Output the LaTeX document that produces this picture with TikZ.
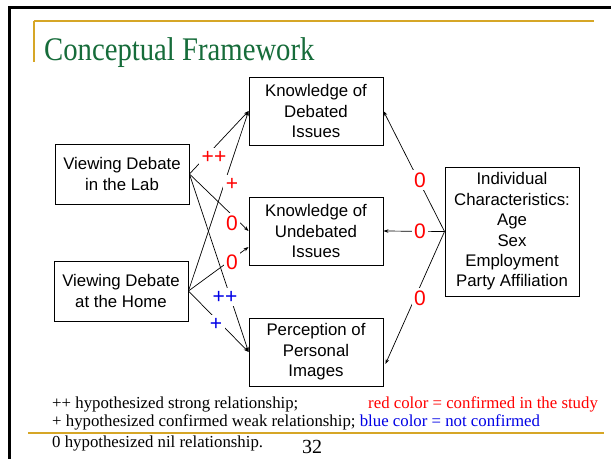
\documentclass[tikz,border=0pt]{standalone}
\usepackage{fontspec}
\setmainfont{Liberation Serif}
\newfontfamily\arialfont{Liberation Sans}
\usetikzlibrary{arrows.meta}
\definecolor{gold}{RGB}{214,166,38}
\definecolor{titlegreen}{RGB}{22,108,58}
\definecolor{lblred}{RGB}{255,0,0}
\definecolor{lblblue}{RGB}{0,0,230}
\tikzset{
  box/.style={draw=black, line width=0.9pt, minimum width=134pt, minimum height=68pt,
    inner sep=0pt, align=center, font=\arialfont\fontsize{16.8}{20.4}\selectfont},
  conn/.style={line width=0.7pt, -{Stealth[length=5pt,width=3.5pt]}},
  lbl/.style={fill=white, inner sep=2.5pt, font=\arialfont\fontsize{21}{22}\selectfont},
  legend/.style={anchor=base west, inner sep=0pt, font=\fontsize{16.8}{20}\selectfont}
}
\begin{document}
\begin{tikzpicture}[x=1pt,y=-1pt]
\useasboundingbox (0,0) rectangle (611,459);
\fill[white] (0,0) rectangle (611,459);
% slide frame
\fill[black] (8,6) rectangle (611,9);
\fill[black] (8,6) rectangle (11,459);
% gold rules
\draw[gold, line width=1.3pt] (34,21) -- (594,21);
\draw[gold, line width=1.3pt] (34,21) -- (34,62);
\draw[gold, line width=1.3pt] (28,433) -- (604,433);
% title
\node[anchor=base west, inner sep=0pt, text=titlegreen, font=\fontsize{33}{36}\selectfont]
  (title) at (44,60) {\scalebox{0.87}[1]{Conceptual Framework}};
% boxes
\node[box] (kdi) at (316,111) {Knowledge of\\Debated\\Issues};
\node[box] (kui) at (316,231) {Knowledge of\\Undebated\\Issues};
\node[box] (ppi) at (316,352) {Perception of\\Personal\\Images};
\node[box, minimum height=60pt] (lab) at (122,174) {Viewing Debate\\in the Lab};
\node[box, minimum height=60pt] (home) at (121,291) {Viewing Debate\\at the Home};
\node[box, minimum height=129pt] (ind) at (512,231.5) {Individual\\Characteristics:\\Age\\Sex\\Employment\\Party Affiliation};
% connectors
\draw[conn] (lab.east) -- (kdi.west);
\draw[conn] (home.east) -- (kdi.west);
\draw[conn] (lab.east) -- (kui.west);
\draw[conn] (home.east) -- ([yshift=-16pt]kui.west);
\draw[conn] (lab.east) -- (ppi.west);
\draw[conn] (home.east) -- (ppi.west);
\draw[conn] (ind.west) -- (kdi.east);
\draw[conn] (ind.west) -- (kui.east);
\draw[conn] (ind.west) -- ([xshift=2pt,yshift=-12pt]ppi.east);
% labels
\node[lbl, text=lblred] (l1) at (214,157) {++};
\node[lbl, text=lblred] (l2) at (232,184) {+};
\node[lbl, text=lblred] (l3) at (232,223) {0};
\node[lbl, text=lblred] (l4) at (232,262) {0};
\node[lbl, text=lblblue] (l5) at (225,297) {++};
\node[lbl, text=lblblue] (l6) at (216,324) {+};
\node[lbl, text=lblred] (r1) at (420,180) {0};
\node[lbl, text=lblred] (r2) at (420,231) {0};
\node[lbl, text=lblred] (r3) at (420,298) {0};
% legend
\node[legend] (g1) at (52,408) {++ hypothesized strong relationship;};
\node[legend, text=lblred] (g1r) at (368,408) {red color = confirmed in the study};
\node[legend] (g2) at (52,426) {+ hypothesized confirmed weak relationship; \textcolor{lblblue}{blue color = not confirmed}};
\node[legend] (g3) at (52,447) {0 hypothesized nil relationship.};
\node[anchor=base west, inner sep=0pt, font=\fontsize{20}{22}\selectfont] (pg) at (302,453) {32};
\end{tikzpicture}
\end{document}
